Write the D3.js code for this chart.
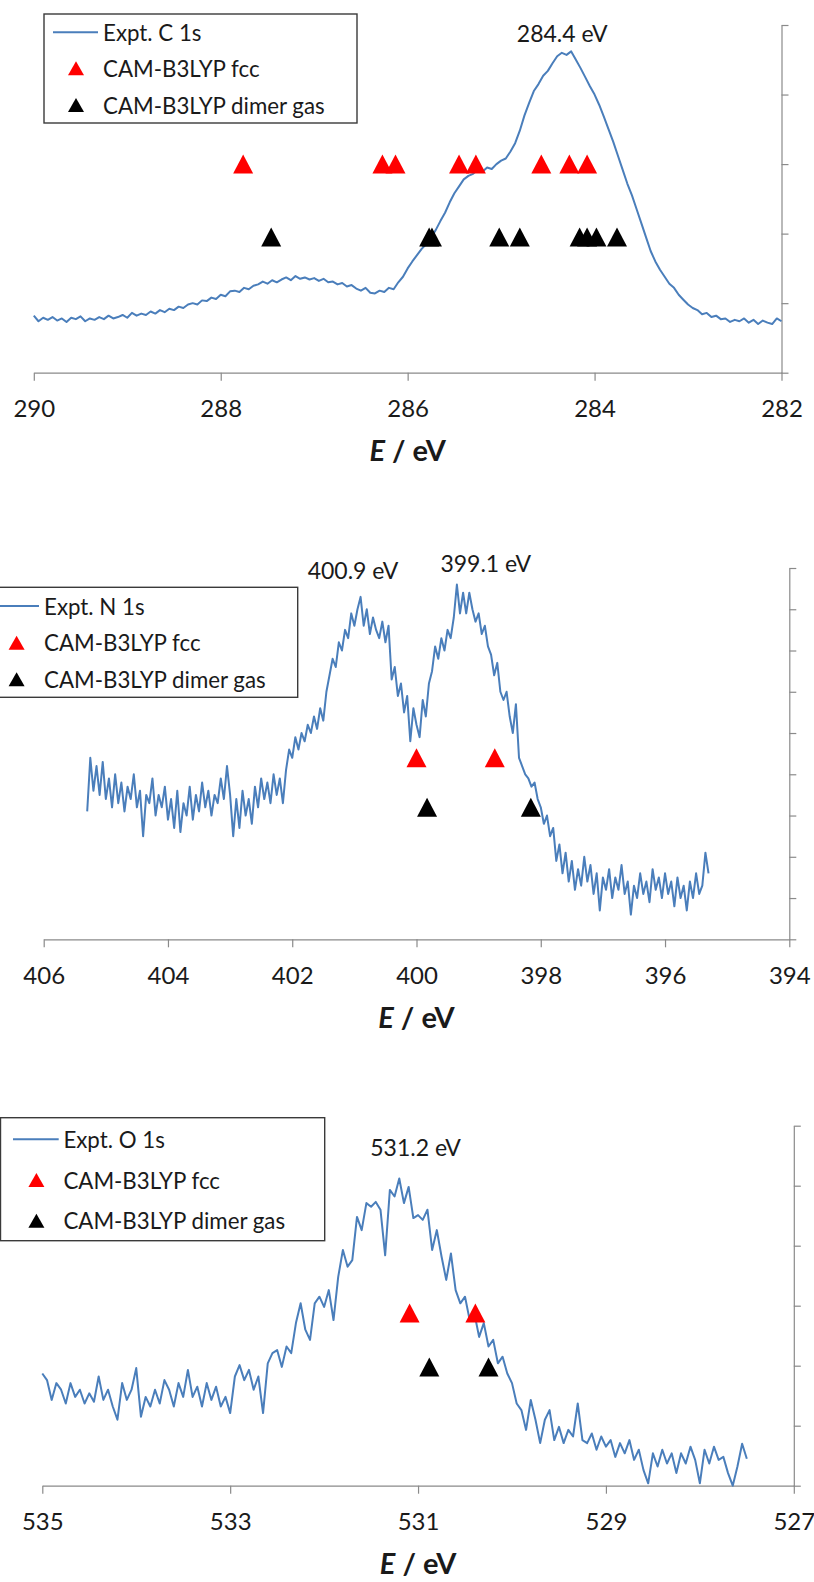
<!DOCTYPE html>
<html>
<head>
<meta charset="utf-8">
<script src="https://cdn.jsdelivr.net/npm/d3@7"></script>
<style>
  body { margin: 0; background: #fff; }
  text { font-family: Lato, "Open Sans", "Liberation Sans", sans-serif; fill: #1a1a1a; }
</style>
</head>
<body>
<svg id="fig" width="814" height="1582"></svg>
<script>
// ---------- C 1s ----------
const cEnergyStart = 290.00, cEnergyStep = 0.05;
const cIntensity = [
  0.82,0.74,0.79,0.76,0.80,0.75,0.78,0.73,0.79,0.77,
  0.81,0.74,0.78,0.76,0.80,0.77,0.82,0.78,0.80,0.83,
  0.79,0.86,0.82,0.85,0.83,0.88,0.85,0.90,0.87,0.92,
  0.90,0.95,0.93,0.98,1.00,0.98,1.04,1.03,1.08,1.06,
  1.12,1.10,1.17,1.18,1.16,1.22,1.20,1.25,1.27,1.31,
  1.28,1.33,1.30,1.34,1.37,1.33,1.39,1.35,1.37,1.34,
  1.36,1.32,1.35,1.30,1.31,1.27,1.29,1.24,1.26,1.21,
  1.18,1.22,1.15,1.14,1.18,1.16,1.22,1.20,1.30,1.38,
  1.50,1.60,1.69,1.78,1.85,1.95,2.05,2.18,2.30,2.45,
  2.58,2.68,2.78,2.83,2.86,2.92,2.89,2.95,2.93,3.00,
  3.05,3.08,3.18,3.30,3.48,3.70,3.88,4.05,4.15,4.27,
  4.34,4.45,4.55,4.60,4.57,4.62,4.50,4.38,4.25,4.12,
  4.00,3.85,3.68,3.50,3.32,3.12,2.92,2.72,2.55,2.35,
  2.15,1.95,1.75,1.60,1.48,1.38,1.28,1.22,1.12,1.05,
  0.98,0.93,0.90,0.84,0.86,0.80,0.82,0.77,0.78,0.73,
  0.76,0.74,0.78,0.72,0.76,0.70,0.75,0.72,0.70,0.78,
  0.74
];
const cFccEnergies   = [287.76, 286.27, 286.13, 285.45, 285.27, 284.57, 284.27, 284.08];
const cFccLevel      = 3.0;
const cDimerEnergies = [287.46, 285.77, 285.74, 285.02, 284.80, 284.16, 284.08, 283.98, 283.76];
const cDimerLevel    = 1.95;
const cPeaks = [284.4];
const cTicks = [290, 288, 286, 284, 282];

// ---------- N 1s ----------
const nEnergyStart = 405.30, nEnergyStep = 0.05;
const nIntensity = [
  3.1,4.4,3.6,4.2,3.5,4.3,3.4,3.9,3.2,4.0,
  3.3,3.8,3.1,3.7,3.4,4.0,3.2,3.6,2.5,3.5,
  3.3,3.9,3.0,3.5,3.2,3.7,2.9,3.4,2.7,3.6,
  2.6,3.3,3.0,3.7,2.9,3.5,3.1,3.8,3.2,3.6,
  3.0,3.5,3.3,3.9,3.4,4.2,3.5,2.5,3.4,2.7,
  3.6,3.0,3.4,2.8,3.7,3.2,3.9,3.4,3.8,3.3,
  4.0,3.5,3.9,3.3,4.1,4.6,4.4,4.9,4.6,5.0,
  4.8,5.2,5.0,5.4,5.1,5.6,5.3,6.0,6.4,6.8,
  6.6,7.2,7.0,7.5,7.3,7.9,7.6,8.0,8.3,7.6,
  8.0,7.4,7.8,7.5,7.3,7.7,7.2,7.6,6.3,6.6,
  5.9,6.2,5.5,5.9,4.8,5.6,5.2,4.9,5.8,5.4,
  6.2,6.5,7.1,6.8,7.3,7.0,7.5,7.3,7.8,8.6,
  7.9,8.4,7.9,8.4,8.0,7.7,7.9,7.4,7.6,7.1,
  6.9,6.4,6.7,6.0,5.8,6.0,5.4,5.0,5.7,4.4,
  4.2,4.0,3.9,3.7,3.8,3.4,3.2,2.8,3.0,2.5,
  2.7,1.9,2.3,1.6,2.1,1.4,1.9,1.2,1.7,1.3,
  2.0,1.4,1.8,1.1,1.6,0.7,1.5,1.2,1.7,1.0,
  1.5,1.2,1.8,1.1,1.4,0.6,1.3,1.0,1.6,1.1,
  1.4,0.9,1.7,1.2,1.5,1.0,1.6,1.1,1.4,0.8,
  1.5,1.0,1.3,0.7,1.4,1.0,1.6,1.1,1.3,2.1,
  1.6
];
const nFccEnergies   = [400.00, 398.74];
const nFccLevel      = 4.4;
const nDimerEnergies = [399.83, 398.16];
const nDimerLevel    = 3.2;
const nPeaks = [400.9, 399.1];
const nTicks = [406, 404, 402, 400, 398, 396, 394];

// ---------- O 1s ----------
const oEnergyStart = 535.00, oEnergyStep = 0.05;
const oIntensity = [
  1.87,1.76,1.43,1.71,1.60,1.37,1.71,1.48,1.60,1.37,
  1.54,1.40,1.82,1.43,1.60,1.32,1.10,1.71,1.43,1.60,
  1.96,1.15,1.48,1.32,1.60,1.37,1.76,1.60,1.32,1.71,
  1.48,1.93,1.48,1.65,1.32,1.71,1.43,1.65,1.32,1.48,
  1.21,1.82,2.01,1.76,1.93,1.60,1.82,1.21,2.04,2.21,
  2.26,1.98,2.32,2.21,2.71,3.04,2.60,2.43,3.04,3.15,
  2.98,3.26,2.76,3.48,3.93,3.65,3.76,4.48,4.26,4.71,
  4.65,4.73,4.60,3.84,4.93,4.82,5.12,4.71,4.98,4.46,
  4.51,4.43,4.60,3.93,4.26,3.82,3.43,3.87,3.26,3.04,
  3.15,2.76,2.87,2.48,2.71,2.32,2.43,2.04,2.15,1.87,
  1.71,1.37,1.26,0.93,1.43,1.10,0.71,1.10,1.26,0.76,
  0.98,0.71,0.93,0.82,1.37,0.76,0.71,0.87,0.60,0.82,
  0.65,0.76,0.48,0.71,0.54,0.76,0.43,0.60,0.26,0.04,
  0.54,0.32,0.60,0.37,0.54,0.21,0.54,0.37,0.65,0.43,
  0.04,0.60,0.37,0.65,0.43,0.48,0.21,0.00,0.32,0.70,
  0.45
];
const oFccEnergies   = [531.09, 530.39];
const oFccLevel      = 2.88;
const oDimerEnergies = [530.88, 530.25];
const oDimerLevel    = 1.98;
const oPeaks = [531.2];
const oTicks = [535, 533, 531, 529, 527];

const seriesNames = ["CAM-B3LYP fcc", "CAM-B3LYP dimer gas"];

// ---------- drawing ----------
const LINE_COLOR = "#4a7ebb";
const AXIS_COLOR = "#8a8a8a";
const svg = d3.select("#fig");

function trianglePath(w, h) {
  return `M0,${-h / 2}L${w / 2},${h / 2}L${-w / 2},${h / 2}Z`;
}

function drawPanel(p) {
  const g = svg.append("g");
  const x = d3.scaleLinear().domain([p.eHigh, p.eLow]).range([p.left, p.right]);
  const y = d3.scaleLinear().domain([0, p.yMax]).range([p.bottom, p.top]);

  // energy axis (bottom)
  const xAxis = g.append("g")
    .attr("transform", `translate(0,${p.bottom})`)
    .call(d3.axisBottom(x).tickValues(p.ticks).tickSize(8).tickSizeOuter(0).tickFormat(d3.format("d")));
  xAxis.select(".domain").attr("stroke", AXIS_COLOR).attr("stroke-width", 1.2);
  xAxis.selectAll(".tick line").attr("stroke", AXIS_COLOR).attr("stroke-width", 1.2);
  xAxis.selectAll(".tick text")
    .attr("y", 36).attr("dy", "0.35em")
    .style("font-size", "24px").style("font-family", "Lato, sans-serif").attr("fill", "#1a1a1a");

  // intensity axis (right, unlabelled)
  const yAxis = g.append("g")
    .attr("transform", `translate(${p.right},0)`)
    .call(d3.axisRight(y).tickValues(d3.range(0, p.yMax + 1)).tickSize(7).tickSizeOuter(0).tickFormat(""));
  yAxis.select(".domain").attr("stroke", AXIS_COLOR).attr("stroke-width", 1.2);
  yAxis.selectAll(".tick line").attr("stroke", AXIS_COLOR).attr("stroke-width", 1.2);

  // axis title
  const t = g.append("text")
    .attr("x", (p.left + p.right) / 2).attr("y", p.bottom + 88.5)
    .attr("text-anchor", "middle")
    .style("font-size", "29px").style("font-weight", "bold");
  t.append("tspan").style("font-style", "italic").text("E");
  t.append("tspan").text(" / eV");

  // experimental spectrum
  const line = d3.line()
    .x((d, i) => x(p.eStart - i * p.eStep))
    .y(d => y(d));
  g.append("path")
    .datum(p.intensity)
    .attr("d", line)
    .attr("fill", "none")
    .attr("stroke", LINE_COLOR)
    .attr("stroke-width", 2)
    .attr("stroke-linejoin", "round");

  // computed binding energies
  g.selectAll(".fcc").data(p.fcc).join("path")
    .attr("class", "fcc")
    .attr("transform", d => `translate(${x(d)},${y(p.fccLevel)})`)
    .attr("d", trianglePath(20, 19))
    .attr("fill", "#ff0000");
  g.selectAll(".dimer").data(p.dimer).join("path")
    .attr("class", "dimer")
    .attr("transform", d => `translate(${x(d)},${y(p.dimerLevel)})`)
    .attr("d", trianglePath(20, 19))
    .attr("fill", "#000000");

  // peak annotations
  p.peaks.forEach((e, i) => {
    g.append("text")
      .attr("x", x(e) + p.peakDx[i]).attr("y", p.peakY[i])
      .attr("text-anchor", "middle").attr("dominant-baseline", "central")
      .style("font-size", "23px")
      .text(`${e.toFixed(1)} eV`);
  });

  // legend
  const L = p.legend;
  g.append("rect")
    .attr("x", L.x).attr("y", L.y).attr("width", L.w).attr("height", L.h)
    .attr("fill", "#fff").attr("stroke", "#3a3a3a").attr("stroke-width", 1.4);
  g.append("line")
    .attr("x1", L.lineX1).attr("x2", L.lineX2)
    .attr("y1", L.rows[0]).attr("y2", L.rows[0])
    .attr("stroke", LINE_COLOR).attr("stroke-width", 2);
  g.append("path")
    .attr("transform", `translate(${L.markerX},${L.rows[1]})`)
    .attr("d", trianglePath(16, 14)).attr("fill", "#ff0000");
  g.append("path")
    .attr("transform", `translate(${L.markerX},${L.rows[2]})`)
    .attr("d", trianglePath(16, 14)).attr("fill", "#000000");
  [p.label, seriesNames[0], seriesNames[1]].forEach((s, i) => {
    g.append("text")
      .attr("x", L.textX).attr("y", L.rows[i])
      .attr("dominant-baseline", "central")
      .style("font-size", "22.3px")
      .text(s);
  });
}

drawPanel({
  eStart: cEnergyStart, eStep: cEnergyStep, intensity: cIntensity,
  fcc: cFccEnergies, fccLevel: cFccLevel, dimer: cDimerEnergies, dimerLevel: cDimerLevel,
  peaks: cPeaks, peakDx: [5], peakY: [33],
  ticks: cTicks, eHigh: 290, eLow: 282, yMax: 5,
  left: 33.8, right: 781.5, top: 25, bottom: 372.7,
  label: "Expt. C 1s",
  legend: { x: 44, y: 14, w: 313, h: 109, rows: [32.3, 68.3, 105], lineX1: 53, lineX2: 98, markerX: 76, textX: 103 }
});

drawPanel({
  eStart: nEnergyStart, eStep: nEnergyStep, intensity: nIntensity,
  fcc: nFccEnergies, fccLevel: nFccLevel, dimer: nDimerEnergies, dimerLevel: nDimerLevel,
  peaks: nPeaks, peakDx: [-7.6, 13.3], peakY: [570, 562.7],
  ticks: nTicks, eHigh: 406, eLow: 394, yMax: 9,
  left: 43.7, right: 789.3, top: 568, bottom: 939.3,
  label: "Expt. N 1s",
  legend: { x: -1, y: 587.3, w: 298.7, h: 110, rows: [606, 642.7, 679.3], lineX1: -1, lineX2: 39, markerX: 16.6, textX: 44 }
});

drawPanel({
  eStart: oEnergyStart, eStep: oEnergyStep, intensity: oIntensity,
  fcc: oFccEnergies, fccLevel: oFccLevel, dimer: oDimerEnergies, dimerLevel: oDimerLevel,
  peaks: oPeaks, peakDx: [16.3], peakY: [1147.3],
  ticks: oTicks, eHigh: 535, eLow: 527, yMax: 6,
  left: 42.3, right: 793.8, top: 1125.7, bottom: 1485.7,
  label: "Expt. O 1s",
  legend: { x: 0.5, y: 1117.7, w: 324.2, h: 123, rows: [1139.3, 1180, 1220.7], lineX1: 13, lineX2: 58.7, markerX: 36.4, textX: 63.4 }
});
</script>
</body>
</html>
